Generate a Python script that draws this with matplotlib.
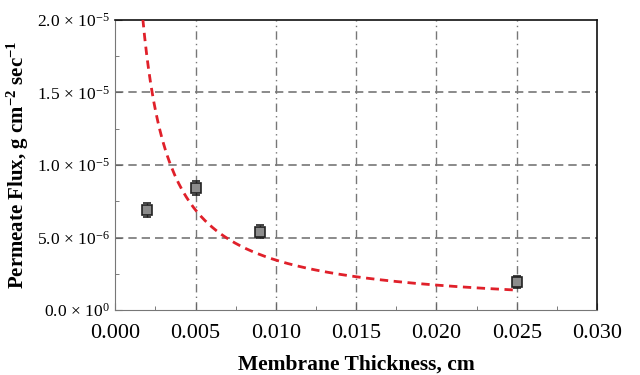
import numpy as np
import matplotlib.pyplot as plt
from matplotlib.ticker import MultipleLocator, FuncFormatter

plt.rcParams['font.family'] = 'Liberation Serif'
plt.rcParams['mathtext.fontset'] = 'custom'
plt.rcParams['mathtext.rm'] = 'Liberation Serif'
plt.rcParams['mathtext.it'] = 'Liberation Serif:italic'
plt.rcParams['mathtext.bf'] = 'Liberation Serif:bold'

# measured points
thickness = [0.002, 0.005, 0.009, 0.025]
flux = [6.9e-6, 8.4e-6, 5.4e-6, 1.95e-6]
flux_err = [0.45e-6, 0.5e-6, 0.45e-6, 0.4e-6]

# model curve: flux = k / thickness
k_model = 3.45e-8
model_x = np.linspace(0.00172, 0.025, 200)
model_y = k_model / model_x

def sci_label(v, pos):
    if v == 0:
        return r'$0.0\,\times\,10^{0}$'
    exp = int(np.floor(np.log10(abs(v))))
    mant = v / 10**exp
    return r'$%.1f\,\times\,10^{%d}$' % (mant, exp)

fig, ax = plt.subplots(figsize=(6.4, 3.75), dpi=100)
fig.subplots_adjust(left=0.18, right=0.933, top=0.947, bottom=0.173)

# grid
for gx in [0.005, 0.010, 0.015, 0.020, 0.025]:
    ax.axvline(gx, color='#777777', lw=1.0, ls=(0, (6, 3, 1, 3)), zorder=1)
for gy in [5e-6, 1e-5, 1.5e-5]:
    ax.axhline(gy, color='#777777', lw=1.2, ls=(0, (5, 3)), zorder=1)

ax.plot(model_x, model_y, color='#e0202a', lw=2.0, ls=(0, (3, 2)), zorder=3)
ax.errorbar(thickness, flux, yerr=flux_err, fmt='s', ms=6.5, mfc='#8c8c8c',
            mec='#222222', mew=1.2, ecolor='#222222', elinewidth=1.0,
            capsize=3, zorder=4)

ax.set_xlim(0, 0.030)
ax.set_ylim(0, 2.0e-5)
ax.xaxis.set_major_locator(MultipleLocator(0.005))
ax.xaxis.set_minor_locator(MultipleLocator(0.0025))
ax.yaxis.set_major_locator(MultipleLocator(5e-6))
ax.yaxis.set_minor_locator(MultipleLocator(2.5e-6))
ax.xaxis.set_major_formatter(FuncFormatter(lambda v, p: '%.3f' % v))
ax.yaxis.set_major_formatter(FuncFormatter(sci_label))
ax.tick_params(axis='x', which='major', direction='in', length=5, labelsize=16, pad=10, color='#666666')
ax.tick_params(axis='y', which='major', direction='in', length=5, labelsize=12.5, pad=4, color='#666666')
ax.tick_params(which='minor', direction='in', length=3, color='#666666')

for s in ['left', 'bottom']:
    ax.spines[s].set_color('#777777')
for s in ['right', 'top']:
    ax.spines[s].set_color('#111111')
    ax.spines[s].set_linewidth(1.2)

ax.set_xlabel('Membrane Thickness, cm', fontsize=15.5, fontweight='bold', labelpad=8)
ax.set_ylabel(r'Permeate Flux, g cm$^{\mathbf{-2}}$ sec$^{\mathbf{-1}}$',
              fontsize=15, fontweight='bold', labelpad=4)

fig.savefig('out.png', dpi=100)
